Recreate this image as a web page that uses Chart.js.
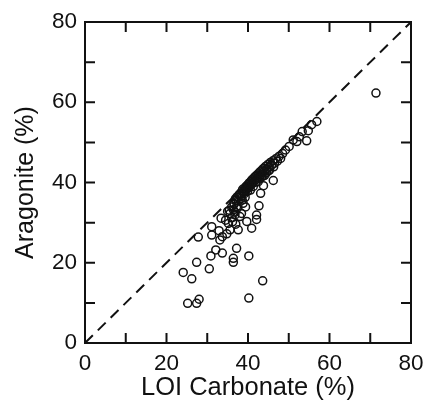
<!DOCTYPE html>
<html>
<head>
<meta charset="utf-8">
<script src="https://cdn.jsdelivr.net/npm/chart.js@4"></script>
<style>
  html, body { margin: 0; padding: 0; background: #fff; }
  #wrap { width: 426px; height: 403px; }
</style>
</head>
<body>
<div id="wrap"><canvas id="chart" width="426" height="403"></canvas></div>
<script>
// LOI carbonate (%) vs aragonite (%)
const loiCarbonate = [
  25.2, 27.4, 28.0, 40.2, 43.6, 24.1, 26.2, 27.4, 30.5, 30.9,
  32.1, 33.7, 36.4, 36.4, 37.2, 40.2, 27.8, 31.1, 31.1, 32.9,
  33.1, 33.7, 33.4, 35.2, 35.6, 37.6, 36.4, 35.6, 38.4, 39.7,
  40.9, 42.1, 42.1, 42.7, 43.1, 43.8, 46.2, 34.5, 35.0, 36.0,
  36.8, 37.4, 38.0, 36.2, 37.0, 34.8, 38.8, 39.4,
  36.5, 37.0, 37.3, 37.8, 38.0, 38.2, 38.5, 38.7, 39.0, 39.2,
  39.4, 39.6, 39.8, 40.0, 40.1, 40.3, 40.5, 40.7, 40.9, 41.0,
  41.2, 41.4, 41.6, 41.8, 42.0, 42.2, 42.4, 42.6, 42.8, 43.0,
  43.2, 43.4, 43.6, 43.8, 44.0, 44.3, 44.6, 44.9, 45.2, 45.5,
  45.8, 46.1, 46.5, 46.8, 47.2, 47.6, 48.0, 48.5, 49.2, 50.1,
  51.1, 52.0, 52.6, 53.3, 54.4, 54.8, 55.6, 56.9, 71.4,
  39.1, 39.9, 40.6, 41.3, 42.5, 43.3, 44.1, 45.0, 37.6, 38.3,
  36.9, 37.5, 38.1, 38.9, 39.5, 40.4, 41.1, 41.9, 42.9, 43.7,
  44.5, 45.3, 46.3, 37.2, 38.6, 39.3, 36.0, 36.6, 35.4, 36.8
];
const aragonite = [
  9.9, 9.9, 10.9, 11.2, 15.5, 17.6, 16.0, 20.1, 18.5, 21.7,
  23.2, 22.4, 21.1, 20.1, 23.6, 21.7, 26.4, 29.0, 26.9, 28.0,
  25.7, 26.5, 31.1, 29.8, 28.2, 28.2, 33.2, 32.3, 32.3, 30.3,
  28.6, 30.8, 31.9, 34.2, 37.3, 39.2, 40.5, 30.6, 32.8, 31.2,
  32.6, 33.6, 31.5, 30.2, 29.6, 27.2, 34.8, 33.9,
  34.8, 35.5, 36.4, 36.9, 37.2, 36.5, 37.8, 38.3, 37.6, 38.6,
  38.0, 39.1, 38.4, 39.5, 38.8, 39.9, 39.2, 40.3, 39.6, 40.7,
  40.0, 41.1, 40.4, 41.5, 40.8, 41.9, 41.2, 42.3, 41.6, 42.7,
  42.0, 43.1, 42.4, 43.5, 42.8, 44.0, 43.3, 44.5, 43.8, 45.0,
  44.3, 45.4, 44.8, 45.9, 45.3, 46.5, 46.0, 47.2, 48.1, 49.0,
  50.6, 50.2, 51.4, 52.7, 50.4, 52.9, 54.4, 55.2, 62.3,
  37.2, 37.8, 38.1, 39.0, 40.2, 41.4, 41.8, 42.9, 35.4, 36.0,
  35.9, 36.2, 37.0, 37.5, 38.9, 39.0, 39.8, 40.1, 41.1, 41.6,
  42.4, 43.1, 43.9, 34.0, 35.6, 36.3, 33.9, 34.6, 33.1, 31.9
];
const oneToOne = [0, 80];
const tickValues = [0, 10, 20, 30, 40, 50, 60, 70, 80];

const points = loiCarbonate.map((x, i) => ({ x: x, y: aragonite[i] }));
const linePts = oneToOne.map(v => ({ x: v, y: v }));

const fontFamily = '"Liberation Sans", Arial, Helvetica, sans-serif';

// frame plus inward tick marks on all four sides
const framePlugin = {
  id: 'frame',
  afterDraw(chart) {
    const ctx = chart.ctx;
    const a = chart.chartArea;
    const xs = chart.scales.x;
    const ys = chart.scales.y;
    const len = 10;
    ctx.save();
    ctx.strokeStyle = '#111';
    ctx.lineWidth = 2;
    ctx.strokeRect(a.left, a.top, a.right - a.left, a.bottom - a.top);
    ctx.beginPath();
    tickValues.forEach(v => {
      const px = xs.getPixelForValue(v);
      ctx.moveTo(px, a.bottom); ctx.lineTo(px, a.bottom - len);
      ctx.moveTo(px, a.top); ctx.lineTo(px, a.top + len);
      const py = ys.getPixelForValue(v);
      ctx.moveTo(a.left, py); ctx.lineTo(a.left + len, py);
      ctx.moveTo(a.right, py); ctx.lineTo(a.right - len, py);
    });
    ctx.stroke();
    ctx.restore();
  }
};

new Chart(document.getElementById('chart'), {
  type: 'scatter',
  data: {
    datasets: [
      {
        data: points,
        pointStyle: 'circle',
        pointRadius: 4,
        borderWidth: 1.5,
        borderColor: '#111',
        backgroundColor: 'rgba(0,0,0,0)'
      },
      {
        type: 'line',
        data: linePts,
        borderColor: '#111',
        borderWidth: 2,
        borderDash: [11, 7],
        pointRadius: 0,
        fill: false
      }
    ]
  },
  plugins: [framePlugin],
  options: {
    responsive: false,
    animation: false,
    layout: { padding: { top: 22, right: 15, left: 0, bottom: 0 } },
    plugins: { legend: { display: false }, tooltip: { enabled: false } },
    scales: {
      x: {
        type: 'linear',
        min: 0, max: 80,
        grid: { display: false, drawTicks: false },
        border: { display: false },
        ticks: { stepSize: 20, padding: 7, color: '#111', font: { family: fontFamily, size: 22.5 } },
        title: { display: true, text: 'LOI Carbonate (%)', color: '#111', padding: { top: 0, bottom: 0 }, font: { family: fontFamily, size: 25.5 } },
        afterFit(scale) {
          scale.height = 60;
          // keep the plot frame at its place regardless of the last label's width
          scale.paddingRight = 0;
          scale.paddingLeft = 0;
        }
      },
      y: {
        type: 'linear',
        min: 0, max: 80,
        grid: { display: false, drawTicks: false },
        border: { display: false },
        ticks: { stepSize: 20, padding: 8, color: '#111', font: { family: fontFamily, size: 22.5 } },
        title: { display: true, text: 'Aragonite (%)', color: '#111', padding: { top: 11, bottom: 0 }, font: { family: fontFamily, size: 25 } },
        afterFit(scale) {
          scale.width = 85;
          scale.paddingTop = 0;
          scale.paddingBottom = 0;
        }
      }
    }
  }
});
</script>
</body>
</html>
